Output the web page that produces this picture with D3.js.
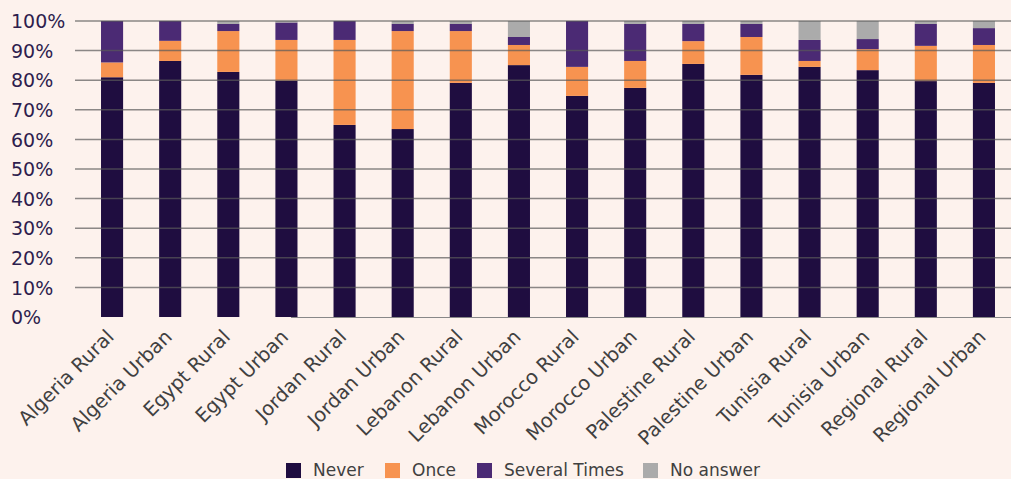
<!DOCTYPE html>
<html><head><meta charset="utf-8">
<script src="https://cdn.jsdelivr.net/npm/d3@7"></script>
<style>
html,body{margin:0;padding:0;background:#fdf2ed;}
svg{display:block;}
</style></head>
<body>
<svg id="chart" width="1011" height="479"></svg>
<script>
const categories = ["Algeria Rural","Algeria Urban","Egypt Rural","Egypt Urban","Jordan Rural","Jordan Urban","Lebanon Rural","Lebanon Urban","Morocco Rural","Morocco Urban","Palestine Rural","Palestine Urban","Tunisia Rural","Tunisia Urban","Regional Rural","Regional Urban"];
const never    = [81.0, 86.5, 82.8, 79.8, 64.9, 63.5, 79.1, 85.1, 74.7, 77.4, 85.5, 81.8, 84.5, 83.4, 79.7, 79.1];
const once     = [5.0, 6.8, 13.8, 13.8, 28.7, 33.1, 17.5, 6.8, 9.8, 9.1, 7.7, 12.8, 2.0, 7.1, 11.9, 12.8];
const several  = [14.0, 6.7, 2.4, 5.9, 6.4, 2.4, 2.4, 2.7, 15.5, 12.5, 5.8, 4.4, 7.1, 3.4, 7.4, 5.7];
const noAnswer = [0.0, 0.0, 1.0, 0.5, 0.0, 1.0, 1.0, 5.4, 0.0, 1.0, 1.0, 1.0, 6.4, 6.1, 1.0, 2.4];
const seriesNames = ["Never","Once","Several Times","No answer"];
const seriesColors = ["#1f0d40","#f79350","#4b2a74","#ababab"];
const yTicks = [0,10,20,30,40,50,60,70,80,90,100];

const svg = d3.select("#chart");
const W = 1011, H = 479;
svg.append("rect").attr("width",W).attr("height",H).attr("fill","#fdf2ed");

const x = d3.scaleBand().domain(categories).range([83, 1013]).paddingInner(0.62).paddingOuter(0.31);
const y = d3.scaleLinear().domain([0,100]).range([317, 21]);

const rows = categories.map((c,i)=>({cat:c, "Never":never[i], "Once":once[i], "Several Times":several[i], "No answer":noAnswer[i]}));
const stack = d3.stack().keys(seriesNames)(rows);

const gBars = svg.append("g");
stack.forEach((layer, li)=>{
  gBars.selectAll(null).data(layer).enter().append("rect")
    .attr("x", d=>x(d.data.cat))
    .attr("width", x.bandwidth())
    .attr("y", d=>y(d[1]))
    .attr("height", d=>Math.max(0, y(d[0]) - y(d[1])))
    .attr("fill", seriesColors[li]);
});

// gridlines (drawn over bars)
const gGrid = svg.append("g");
gGrid.selectAll("line").data(yTicks.filter(t=>t>0)).enter().append("line")
  .attr("x1", 75).attr("x2", W)
  .attr("y1", d=>y(d)).attr("y2", d=>y(d))
  .attr("stroke", "#5a5a5a").attr("stroke-width", 1.5).attr("stroke-opacity", 0.7);
// baseline
svg.append("line").attr("x1", 291).attr("x2", W).attr("y1", y(0)+0.5).attr("y2", y(0)+0.5)
  .attr("stroke","#888").attr("stroke-width",1.2);

// y tick labels
const yAxis = d3.axisLeft(y).tickValues(yTicks).tickFormat(d=>d+"%").tickSize(0).tickPadding(0);
const gy = svg.append("g").attr("transform","translate(11,0)").call(yAxis);
gy.select(".domain").remove();
gy.selectAll("text").attr("text-anchor","start").attr("x",0).attr("dy","0.35em")
  .attr("font-family","'DejaVu Sans', sans-serif").attr("font-size",19).attr("fill","#2e1e4e");

// x labels
const xAxis = d3.axisBottom(x).tickSize(0).tickPadding(0);
const gx = svg.append("g").call(xAxis);
gx.select(".domain").remove();
gx.selectAll(".tick").attr("transform", d=>`translate(${x(d)+x.bandwidth()/2+3},338)`);
gx.selectAll("text").attr("y",0).attr("dy","0").attr("text-anchor","end")
  .attr("transform","rotate(-45)")
  .attr("font-family","'DejaVu Sans', sans-serif").attr("font-size",19.5).attr("fill","#404040");

// legend
const legendX = [286, 385, 477, 643];
const lg = svg.append("g");
seriesNames.forEach((n,i)=>{
  lg.append("rect").attr("x",legendX[i]).attr("y",463).attr("width",15).attr("height",15).attr("fill",seriesColors[i]);
  lg.append("text").attr("x",legendX[i]+27).attr("y",476).text(n)
    .attr("font-family","'DejaVu Sans', sans-serif").attr("font-size",17).attr("fill","#404040");
});
</script>
</body></html>
